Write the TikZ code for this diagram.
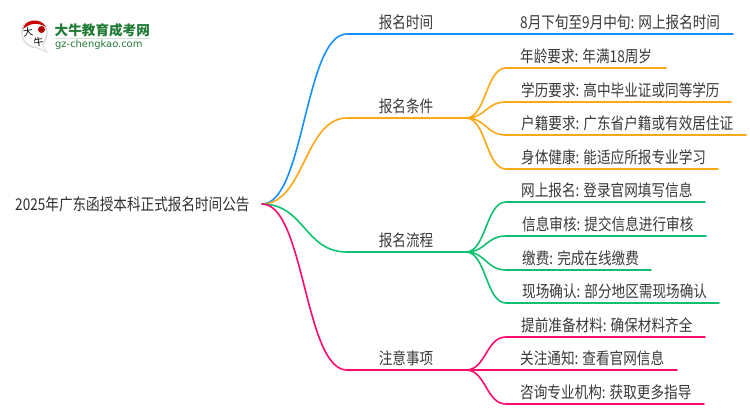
\documentclass[tikz,border=0pt]{standalone}
\usepackage{fontspec}
\setmainfont[FakeStretch=0.835]{Noto Sans CJK SC}
\newfontfamily\logocjk{Noto Sans CJK SC}
\newfontfamily\latinlogo{DejaVu Sans}
\definecolor{cblue}{HTML}{1890FF}
\definecolor{corange}{HTML}{FAA814}
\definecolor{cgreen}{HTML}{10C070}
\definecolor{cpink}{HTML}{FF0A6E}
\definecolor{logogreen}{HTML}{1F7A35}
\usetikzlibrary{calc}
\tikzset{
  x=1pt,y=-1pt,
  rootlabel/.style={anchor=west,inner sep=0pt,font=\fontsize{16.3}{17}\selectfont,text=black!82},
  mainlabel/.style={anchor=base,inner sep=0pt,font=\fontsize{16.3}{17}\selectfont,text=black!78},
  leaflabel/.style={anchor=base west,inner sep=0pt,font=\fontsize{16.3}{17}\selectfont,text=black!78},
  wire/.style={line width=1.6pt,line cap=round},
}
\newcommand{\branch}[3]{\path (#2) -- (#3) coordinate[midway] (mm);
  \draw[wire,#1] (#2) .. controls (mm |- #2) and (mm |- #3) .. (#3);}
\begin{document}
\begin{tikzpicture}
\useasboundingbox (0,0) rectangle (750,410);
% root
\node[rootlabel] (root) at (15,204) {2025年广东函授本科正式报名时间公告};
\coordinate (r) at (262,204);
% main points
\coordinate (a0) at (347,34);  \coordinate (a1) at (733,34);
\coordinate (b0) at (347,118); \coordinate (b1) at (466,118);
\coordinate (c0) at (347,252); \coordinate (c1) at (466,252);
\coordinate (d0) at (347,370); \coordinate (d1) at (466,370);
% orange leaves
\coordinate (b2a) at (506,68);  \coordinate (b3a) at (666,68);
\coordinate (b2b) at (506,102); \coordinate (b3b) at (731,102);
\coordinate (b2c) at (506,135); \coordinate (b3c) at (746,135);
\coordinate (b2d) at (506,169); \coordinate (b3d) at (718,169);
% green leaves
\coordinate (c2a) at (506,202); \coordinate (c3a) at (705,202);
\coordinate (c2b) at (506,236); \coordinate (c3b) at (706,236);
\coordinate (c2c) at (506,270); \coordinate (c3c) at (651,270);
\coordinate (c2d) at (506,303); \coordinate (c3d) at (719,303);
% pink leaves
\coordinate (d2a) at (506,337); \coordinate (d3a) at (705,337);
\coordinate (d2b) at (506,370); \coordinate (d3b) at (677,370);
\coordinate (d2c) at (506,404); \coordinate (d3c) at (704,404);
% connectors
\branch{cblue}{r}{a0}
\draw[wire,cblue] (a0) -- (a1);
\branch{corange}{r}{b0}
\draw[wire,corange] (b0) -- (b1);
\foreach \k in {a,b,c,d}{
  \branch{corange}{b1}{b2\k}
  \draw[wire,corange] (b2\k) -- (b3\k);
}
\branch{cgreen}{r}{c0}
\draw[wire,cgreen] (c0) -- (c1);
\foreach \k in {a,b,c,d}{
  \branch{cgreen}{c1}{c2\k}
  \draw[wire,cgreen] (c2\k) -- (c3\k);
}
\branch{cpink}{r}{d0}
\draw[wire,cpink] (d0) -- (d1);
\foreach \k in {a,b,c}{
  \branch{cpink}{d1}{d2\k}
  \draw[wire,cpink] (d2\k) -- (d3\k);
}
% main labels
\node[mainlabel] (ta) at (406,28) {报名时间};
\node[mainlabel] (tb) at (406,112) {报名条件};
\node[mainlabel] (tc) at (406,246) {报名流程};
\node[mainlabel] (td) at (406,364) {注意事项};
% leaf labels
\node[leaflabel] (la) at (520,28) {8月下旬至9月中旬: 网上报名时间};
\node[leaflabel] (lb1) at (520,62) {年龄要求: 年满18周岁};
\node[leaflabel] (lb2) at (521,96) {学历要求: 高中毕业证或同等学历};
\node[leaflabel] (lb3) at (521,129) {户籍要求: 广东省户籍或有效居住证};
\node[leaflabel] (lb4) at (521,163) {身体健康: 能适应所报专业学习};
\node[leaflabel] (lc1) at (521,196) {网上报名: 登录官网填写信息};
\node[leaflabel] (lc2) at (522,230) {信息审核: 提交信息进行审核};
\node[leaflabel] (lc3) at (522,264) {缴费: 完成在线缴费};
\node[leaflabel] (lc4) at (522,297) {现场确认: 部分地区需现场确认};
\node[leaflabel] (ld1) at (521,331) {提前准备材料: 确保材料齐全};
\node[leaflabel] (ld2) at (520,364) {关注通知: 查看官网信息};
\node[leaflabel] (ld3) at (520,398) {咨询专业机构: 获取更多指导};
% logo
\fill[black!14] (26,22) .. controls (17,26) and (20,48) .. (36,48) -- (48,53) -- (43,45) .. controls (50,38) and (49,24) .. (40,21) -- cycle;
\fill[white] (27,23) .. controls (19,27) and (21,46) .. (36,46.5) -- (45.5,51) -- (41.5,44.5) .. controls (48,38) and (47,25) .. (40,22) -- cycle;
\fill[red!78!black] (23,29) .. controls (25,19) and (40,17) .. (46,27) .. controls (38,22.5) and (31,22.5) .. (23,29) -- cycle;
\fill[red!70!black] (41.5,29.5) circle[radius=3.5];
\node[inner sep=0pt,font=\logocjk\fontsize{10}{10}\selectfont,text=black,rotate=8] (lg1) at (28,32) {大};
\node[inner sep=0pt,font=\logocjk\fontsize{10}{10}\selectfont,text=black,rotate=8] (lg2) at (38.5,42) {牛};
\node[anchor=west,inner sep=0pt,font=\logocjk\fontsize{13.6}{14}\bfseries\selectfont,text=logogreen] (lg3) at (54.5,30) {大牛教育成考网};
\draw[line width=0.6pt,logogreen!20] (55,38.5) -- (150,38.5);
\node[anchor=west,inner sep=0pt,font=\latinlogo\fontsize{9.9}{11}\selectfont,text=logogreen] (lg4) at (55,45) {gz-chengkao.com};
\end{tikzpicture}
\end{document}
